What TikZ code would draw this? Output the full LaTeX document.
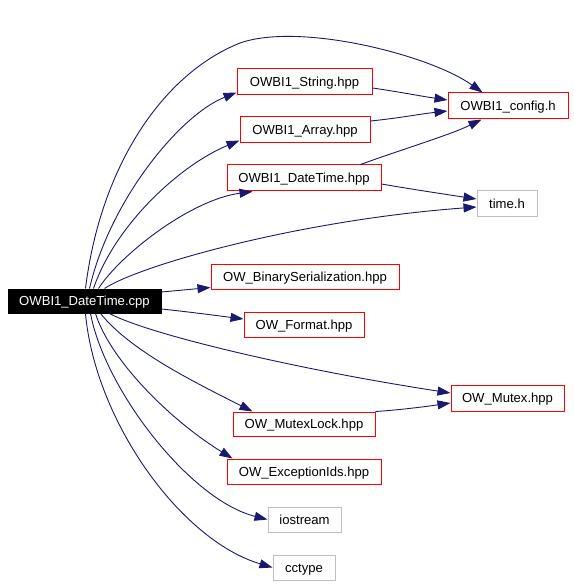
\documentclass[tikz,border=0pt]{standalone}
\usepackage{fontspec}
\setmainfont{Liberation Sans}
\usetikzlibrary{arrows.meta,calc}
\definecolor{edgeblue}{HTML}{191970}
\definecolor{boxred}{HTML}{FF0000}
\definecolor{boxgray}{HTML}{BFBFBF}
\begin{document}
\begin{tikzpicture}[x=1pt,y=-1pt,
  file/.style={draw, line width=1pt, inner sep=0pt, text height=9.4pt, text depth=0pt, font=\fontsize{13.1}{15}\selectfont, text=black},
  redfile/.style={file, draw=boxred},
  grayfile/.style={file, draw=boxgray},
  mainfile/.style={file, fill=black, draw=black, text=white},
  dep/.style={draw=edgeblue, line width=0.9pt, -{Triangle[length=13pt,width=9pt]}}]
\useasboundingbox (0,0) rectangle (573,585);
\node[mainfile, minimum width=153pt, minimum height=24pt] (cpp) at (84.5,301) {OWBI1\_DateTime.cpp};
\node[redfile, minimum width=135pt, minimum height=26pt] (str) at (304.5,82) {OWBI1\_String.hpp};
\node[redfile, minimum width=120pt, minimum height=26pt] (cfg) at (508,106) {OWBI1\_config.h};
\node[redfile, minimum width=130pt, minimum height=26pt] (arr) at (305,130) {OWBI1\_Array.hpp};
\node[redfile, minimum width=154pt, minimum height=26pt] (dth) at (304,178) {OWBI1\_DateTime.hpp};
\node[grayfile, minimum width=60pt, minimum height=25pt] (tim) at (507,203.5) {time.h};
\node[redfile, minimum width=188pt, minimum height=25pt] (bin) at (305,276.5) {OW\_BinarySerialization.hpp};
\node[redfile, minimum width=120pt, minimum height=25pt] (fmt) at (304,324.5) {OW\_Format.hpp};
\node[redfile, minimum width=113pt, minimum height=26pt] (mtx) at (507.5,398) {OW\_Mutex.hpp};
\node[redfile, minimum width=142pt, minimum height=24pt] (mlk) at (304,424) {OW\_MutexLock.hpp};
\node[redfile, minimum width=154pt, minimum height=25pt] (exc) at (304,471.5) {OW\_ExceptionIds.hpp};
\node[grayfile, minimum width=73pt, minimum height=25pt] (ios) at (304.5,519.5) {iostream};
\node[grayfile, minimum width=62pt, minimum height=25pt] (cct) at (304,567.5) {cctype};

\draw[dep] ($(cpp.north west)+(78,0)$) .. controls (100,170) and (160,75) .. (240,43)
  .. controls (300,22) and (430,55) .. ($(cfg.north west)+(35,0)$);
\draw[dep] ($(cpp.north west)+(82,0)$) .. controls (110,200) and (180,115) .. ($(str.south west)+(0,-3)$);
\draw[dep] ($(cpp.north west)+(86,0)$) .. controls (115,225) and (180,165) .. ($(arr.south west)+(0,-3)$);
\draw[dep] ($(cpp.north west)+(91,0)$) .. controls (120,255) and (190,200) .. ($(dth.south west)+(26,0)$);
\draw[dep] ($(cpp.north west)+(97,0)$) .. controls (140,265) and (300,220) .. ($(tim.west)+(0,3.5)$);
\draw[dep] ($(cpp.east)+(0,-9)$) -- ($(bin.south west)+(0,-2)$);
\draw[dep] ($(cpp.east)+(0,8)$) .. controls (190,312) and (220,316) .. ($(fmt.west)+(0,-5.5)$);
\draw[dep] ($(cpp.south west)+(102,0)$) .. controls (150,335) and (300,370) .. ($(mtx.west)+(0,-5)$);
\draw[dep] ($(cpp.south west)+(93,0)$) .. controls (130,350) and (190,380) .. ($(mlk.north west)+(20,0)$);
\draw[dep] ($(cpp.south west)+(88,0)$) .. controls (110,360) and (170,420) .. ($(exc.north west)+(6,0)$);
\draw[dep] ($(cpp.south west)+(83,0)$) .. controls (105,390) and (190,500) .. (ios.west);
\draw[dep] ($(cpp.south west)+(78,0)$) .. controls (95,420) and (180,540) .. (cct.west);

\draw[dep] ($(str.east)+(0,6)$) .. controls (400,92) and (420,96) .. ($(cfg.west)+(0,-6)$);
\draw[dep] ($(arr.east)+(0,-9)$) .. controls (400,118) and (420,114) .. ($(cfg.west)+(0,5)$);
\draw[dep] ($(dth.north east)+(-21,0)$) .. controls (400,150) and (450,135) .. ($(cfg.south west)+(34,0)$);
\draw[dep] ($(dth.east)+(0,6)$) .. controls (410,189) and (450,195) .. ($(tim.west)+(0,-4.5)$);
\draw[dep] (mlk.north east) .. controls (400,410) and (430,406) .. ($(mtx.west)+(0,5)$);
\end{tikzpicture}
\end{document}
